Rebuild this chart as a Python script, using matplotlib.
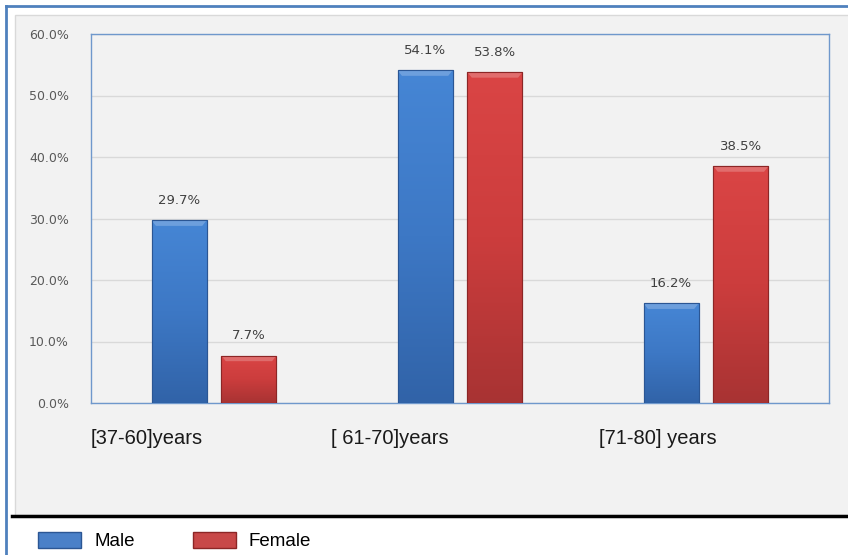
import matplotlib
matplotlib.use("Agg")
import matplotlib.pyplot as plt
import numpy as np
from matplotlib.patches import Rectangle, Patch, Polygon
from matplotlib.lines import Line2D
from matplotlib.colors import LinearSegmentedColormap

categories = ["[37-60]years", "[ 61-70]years", "[71-80] years"]
male = [29.7, 54.1, 16.2]
female = [7.7, 53.8, 38.5]
series_names = ["Male", "Female"]
yticks = [0, 10, 20, 30, 40, 50, 60]

W, H = 848, 555
fig = plt.figure(figsize=(W / 100, H / 100), dpi=100)
fig.patch.set_facecolor("white")

# grey panel background
fig.add_artist(Rectangle((15 / W, 1 - 515 / H), 1, (515 - 15) / H, transform=fig.transFigure,
                         facecolor="#f2f2f2", edgecolor="#d9d9d9", lw=1, zorder=0))
# outer blue border (left + top)
fig.add_artist(Line2D([6 / W, 6 / W], [0, 1 - 6 / H], transform=fig.transFigure, color="#4f81bd", lw=2))
fig.add_artist(Line2D([6 / W, 1], [1 - 6 / H, 1 - 6 / H], transform=fig.transFigure, color="#4f81bd", lw=2))
# black separator line
fig.add_artist(Line2D([12 / W, 1], [1 - 516 / H, 1 - 516 / H], transform=fig.transFigure, color="black", lw=2.5))

ax = fig.add_axes([91 / W, 1 - 403 / H, 738 / W, 369 / H])
ax.set_facecolor("#f2f2f2")
x = np.arange(len(categories))
bw = 0.224
off = 0.142

blue_cmap = LinearSegmentedColormap.from_list("b", ["#4686d5", "#3d78c5", "#3163a8"])
red_cmap = LinearSegmentedColormap.from_list("r", ["#da4545", "#cc3d3d", "#a83333"])

bars_m = ax.bar(x - off, male, bw, facecolor="#3d78c5", edgecolor="#2b5694", lw=0.8, zorder=3)
bars_f = ax.bar(x + off, female, bw, facecolor="#cc3d3d", edgecolor="#8c2626", lw=0.8, zorder=3)

grad = np.linspace(0, 1, 256).reshape(-1, 1)
for bars, cmap, edge in [(bars_m, blue_cmap, "#2b5694"), (bars_f, red_cmap, "#8c2626")]:
    for b in bars:
        x0, y0, w, h = b.get_x(), b.get_y(), b.get_width(), b.get_height()
        im = ax.imshow(grad, cmap=cmap, extent=[x0, x0 + w, y0, y0 + h], aspect="auto",
                       zorder=3.5, origin="upper")
        im.set_clip_path(b)
        # top bevel highlight (trapezoid)
        bev = 0.9
        dx = w * 0.08
        ax.add_patch(Polygon([(x0, y0 + h), (x0 + w, y0 + h), (x0 + w - dx, y0 + h - bev),
                              (x0 + dx, y0 + h - bev)], closed=True, facecolor="white",
                             alpha=0.22, edgecolor="none", zorder=3.6))
        ax.add_patch(Rectangle((x0, y0), w, h, facecolor="none",
                               edgecolor=edge, lw=0.8, zorder=3.7))
        ax.text(x0 + w / 2, h + 2.2, f"{h:.1f}%", ha="center", va="bottom",
                fontsize=9.5, color="#404040", zorder=5)

ax.set_xlim(-0.5, len(categories) - 0.5)
ax.set_ylim(0, 60)
ax.set_yticks(yticks)
ax.set_yticklabels([f"{v:.1f}%" for v in yticks], fontsize=9, color="#595959")
ax.tick_params(axis="y", length=0, pad=16)
ax.set_xticks([])
ax.grid(axis="y", color="#d9d9d9", lw=1, zorder=0)
ax.set_axisbelow(True)
for s in ax.spines.values():
    s.set_color("#6f98cc")
    s.set_linewidth(1)

label_offsets = [-0.274, -0.285, -0.197]
for i, lab in enumerate(categories):
    ax.text(i + label_offsets[i], -0.095, lab, transform=ax.get_xaxis_transform(),
            ha="center", va="center", fontsize=14.5, color="#1a1a1a", family="Liberation Sans")

handles = [Patch(facecolor="#4a80c8", edgecolor="#2b5694"), Patch(facecolor="#c84848", edgecolor="#8c2626")]
fig.legend(handles, series_names, loc="center left", bbox_to_anchor=(21 / W, 1 - 541 / H),
           ncol=2, frameon=False, handlelength=2.3, handleheight=1.0,
           handletextpad=0.7, columnspacing=3.1, prop={"family": "Liberation Sans", "size": 13.5})

fig.savefig("out.png", dpi=100, facecolor=fig.get_facecolor())
